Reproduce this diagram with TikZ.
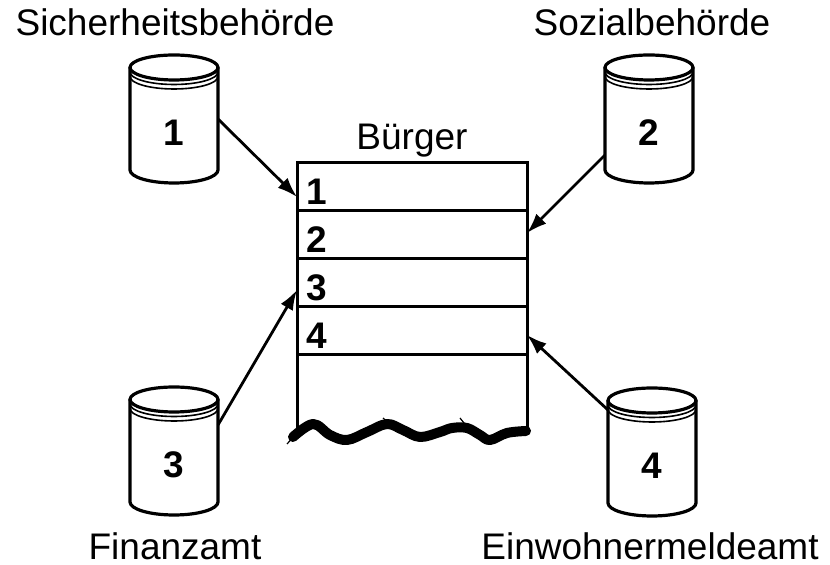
\documentclass[tikz,border=0pt]{standalone}
\usepackage{fontspec}
\setmainfont{Liberation Sans}
\usetikzlibrary{arrows.meta}
\usetikzlibrary{positioning}

\tikzset{Label/.style = {font=\fontsize{18.5}{22}\selectfont, inner sep=0}}
\tikzset{Nummer/.style = {font=\fontsize{18.5}{22}\selectfont\bfseries, inner sep=0}}
\tikzset{Zeile/.style = {draw, line width=1.5pt, outer sep=0, minimum width=115pt, minimum height=24pt}}
\tikzset{Tonne/.style = {line width=1.6pt, line join=round}}
\tikzset{Rand/.style = {line width=0.8pt}}
\tikzset{Pfeil/.style = {-{Latex[length=10pt, width=7pt]}, line width=1.4pt}}

% Datentonne: Name, x, oberer Rand, Nummer
\newcommand{\Tonne}[4]{%
  \draw[Tonne] (#2-44,#3+12.5) -- (#2-44,#3+115)
    arc[start angle=180, end angle=0, x radius=44, y radius=13] -- (#2+44,#3+12.5);
  \draw[Tonne] (#2,#3+12.5) ellipse [x radius=44, y radius=12.5];
  \draw[Rand] (#2-44,#3+17) arc[start angle=180, end angle=0, x radius=44, y radius=12.5];
  \draw[Rand] (#2-44,#3+21.5) arc[start angle=180, end angle=0, x radius=44, y radius=12.5];
  \node[minimum width=44pt, minimum height=64pt, inner sep=0, outer sep=0] (#1) at (#2,#3+64) {};
  \node[Nummer] (#1n) at (#2,#3+78) {#4};
}

\begin{document}
\begin{tikzpicture}[x=0.5pt, y=-0.5pt]
  \useasboundingbox (0,0) rectangle (830,565);

  % Tabelle
  \node[Zeile] (r1) at (412,187) {};
  \node[Zeile, below=0pt of r1] (r2) {};
  \node[Zeile, below=0pt of r2] (r3) {};
  \node[Zeile, below=0pt of r3] (r4) {};
  \foreach \i in {1,...,4}
    \node[Nummer, anchor=base west] (n\i) at ([xshift=4.5pt, yshift=3pt]r\i.south west) {\i};
  \node[Label, anchor=base] (buerger) at (412,150) {Bürger};
  \draw[line width=1.5pt] (r4.south west) -- (297,432);
  \draw[line width=1.5pt] (r4.south east) -- (527,431);
  \draw[line width=5pt, line cap=round, line join=round] plot[smooth, tension=0.6] coordinates
    {(293,437) (313,424) (330,435) (347,440) (367,432) (387,424) (403,430) (420,437)
     (440,432) (452,428) (467,428) (480,435) (490,440) (507,433) (526,431)};
  \draw[line width=0.6pt] (287,444) -- (297,433);
  \draw[line width=0.6pt] (383,418) -- (392,426);
  \draw[line width=0.6pt] (460,418) -- (468,428);

  % Behoerden
  \Tonne{c1}{174}{55}{1}
  \Tonne{c2}{649}{55}{2}
  \Tonne{c3}{174}{387}{3}
  \Tonne{c4}{652}{388}{4}

  \node[Label, anchor=base] (l1) at (175,36) {Sicherheitsbehörde};
  \node[Label, anchor=base] (l2) at (652,36) {Sozialbehörde};
  \node[Label, anchor=base] (l3) at (175,560) {Finanzamt};
  \node[Label, anchor=base] (l4) at (650,560) {Einwohnermeldeamt};

  \draw[Pfeil] (c1.east) -- ([yshift=-5pt]r1.west);
  \draw[Pfeil] ([yshift=-18pt]c2.west) -- ([yshift=1pt]r2.east);
  \draw[Pfeil] ([yshift=13pt]c3.east) -- ([yshift=-3.5pt]r3.west);
  \draw[Pfeil] ([yshift=21pt]c4.west) -- ([yshift=-2pt]r4.east);
\end{tikzpicture}
\end{document}
